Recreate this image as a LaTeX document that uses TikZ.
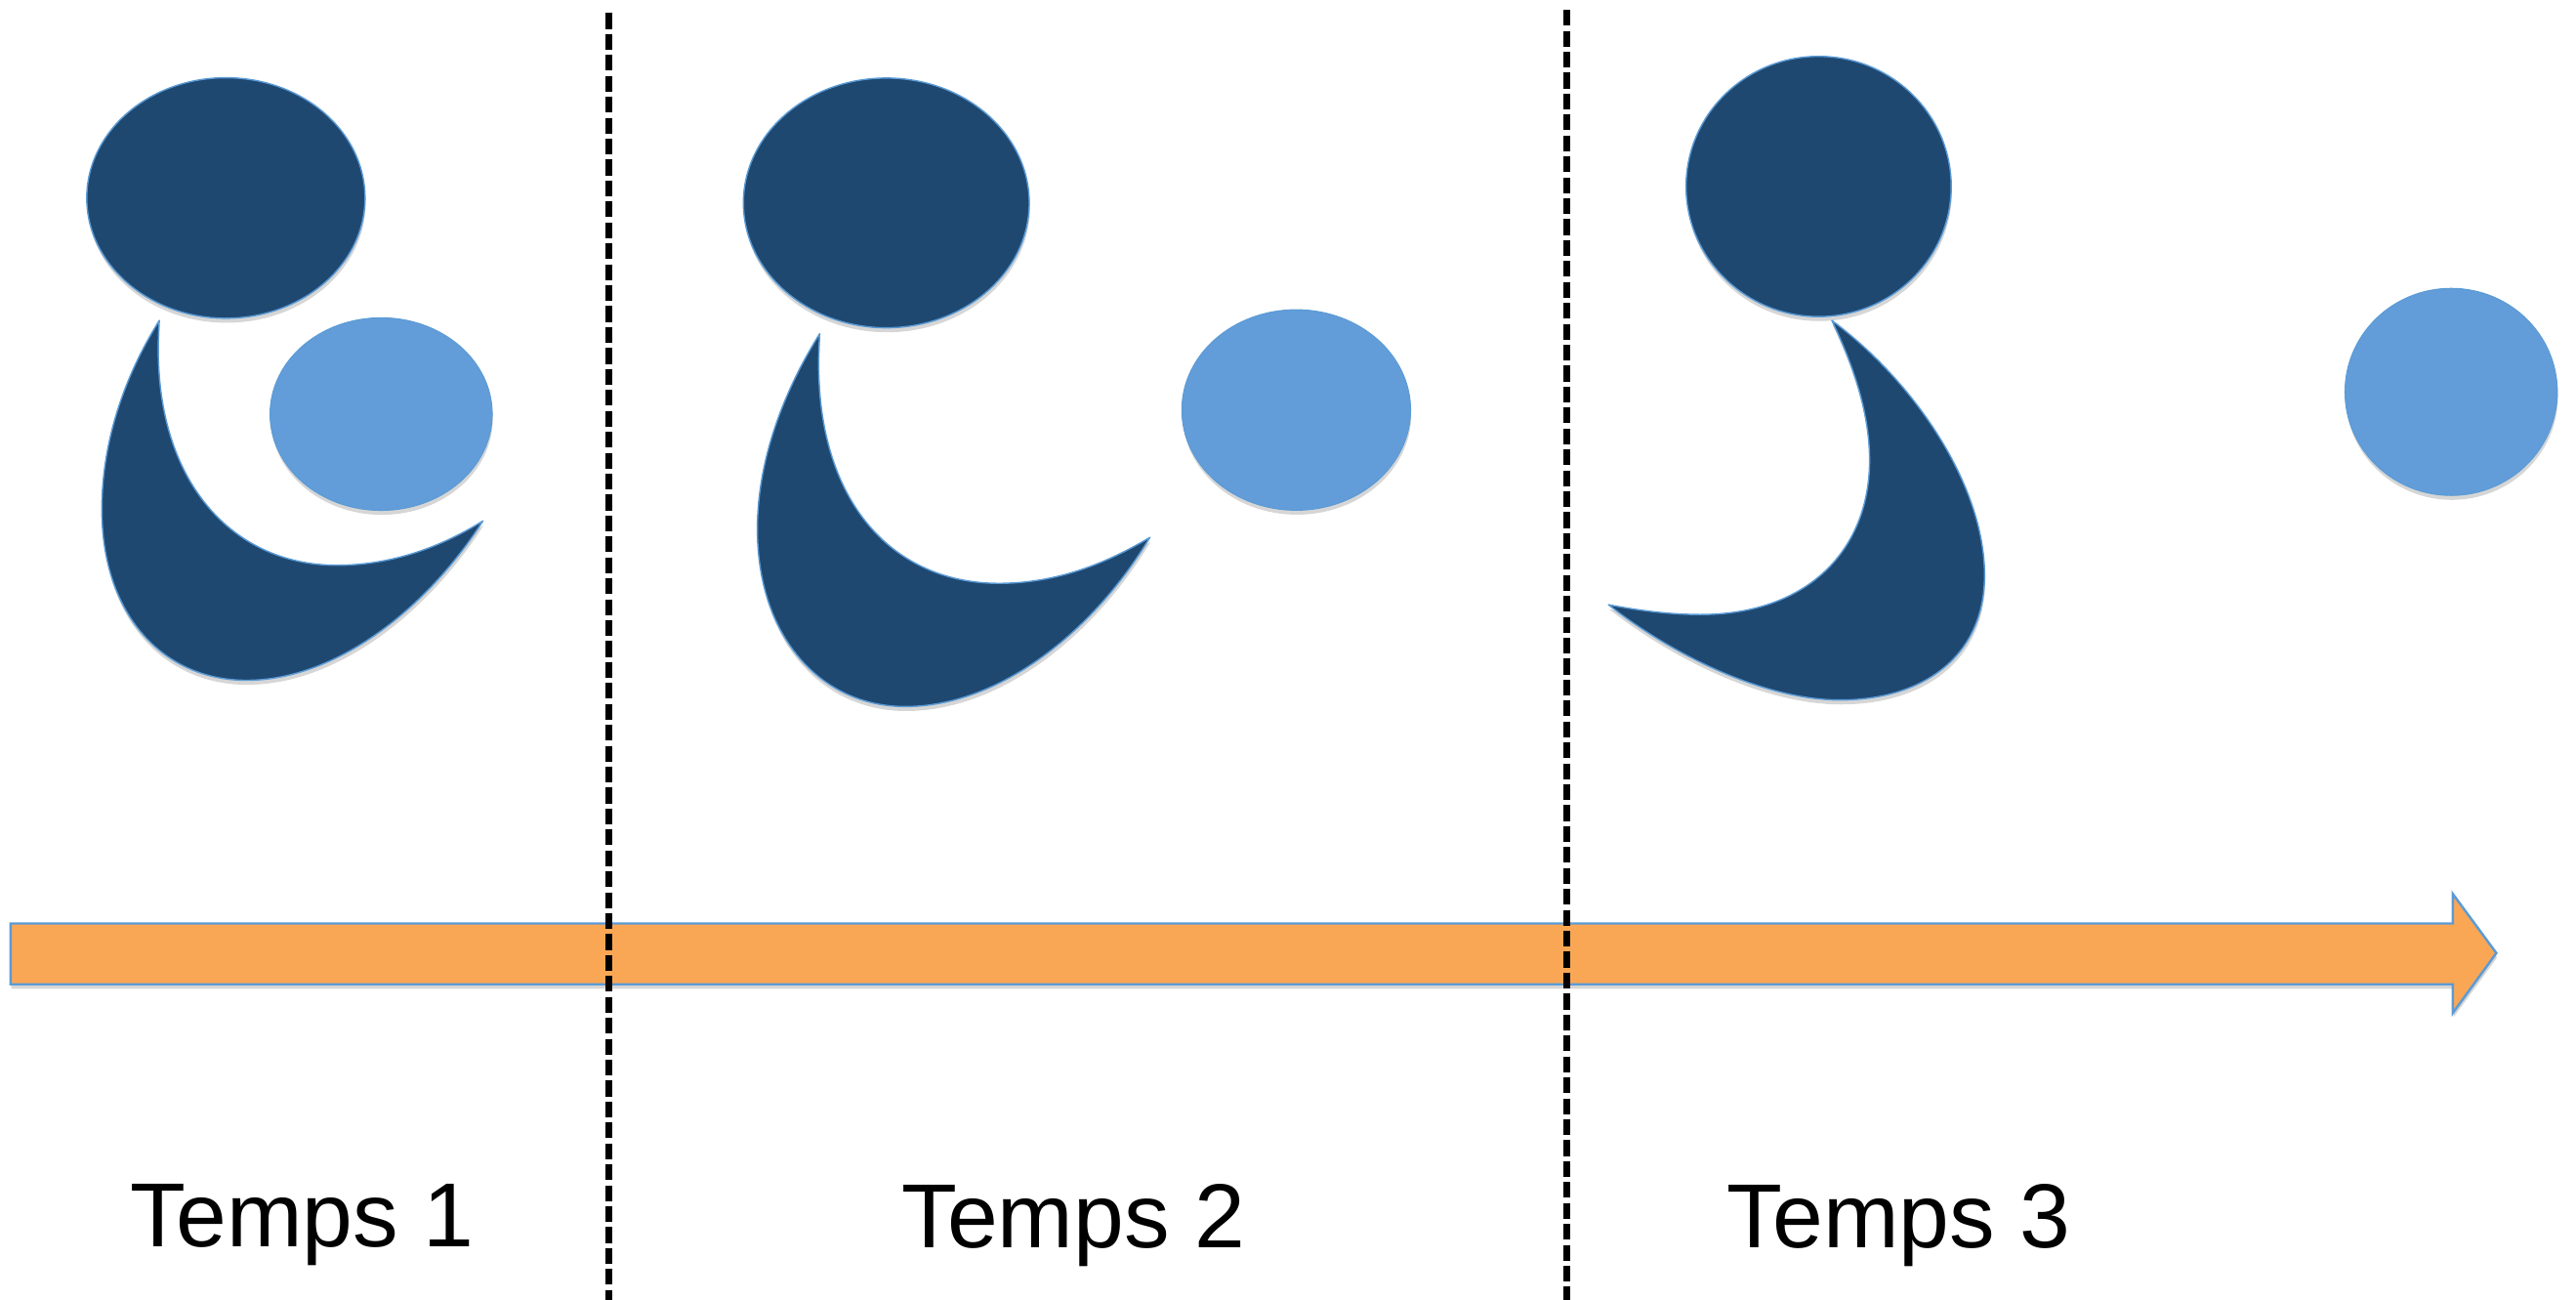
\documentclass[tikz,border=0pt]{standalone}
\usepackage{fontspec}
\setmainfont{Liberation Sans}
\usetikzlibrary{shadows}
\definecolor{darkblue}{HTML}{1F4871}
\definecolor{lightblue}{HTML}{629DDA}
\definecolor{edgeblue}{HTML}{5B9BD5}
\definecolor{timeorange}{HTML}{FAA755}

\begin{document}
\begin{tikzpicture}[x=0.016824cm,y=-0.016824cm]
        \tikzset{softshadow/.style = {drop shadow={shadow xshift=0.2pt,shadow yshift=-1.3pt,fill=black,opacity=.16}}};
        \tikzset{dark/.style = {fill=darkblue,draw=edgeblue,line width=.4pt,line join=round,softshadow}};
        \tikzset{light/.style = {fill=lightblue,draw=edgeblue,line width=.3pt,softshadow}};
        \tikzset{limit/.style = {black,line width=1.9pt,dash pattern=on 4.6pt off 1.5pt}};
        \tikzset{label/.style = {font=\fontsize{26.5}{30}\selectfont,inner sep=0pt}};
        \useasboundingbox (0,0) rectangle (1568,790.55);
        % time 1
        \draw[dark] (137.5,120.5) ellipse (84.7 and 73.2);
        \draw[light] (232,252) ellipse (67.6 and 58.6);
        \draw[dark] (97,195) .. controls (75,230) and (62,270) .. (62,310) .. controls (62,375) and (100,414) .. (150,414) .. controls (205,414) and (260,370) .. (294,317) .. controls (265,335) and (235,344) .. (205,344) .. controls (140,344) and (90,290) .. (97,195) -- cycle;
        % time 2
        \draw[dark] (539.5,123.5) ellipse (87 and 76);
        \draw[light] (789,249.5) ellipse (69.6 and 61);
        \draw[dark] (499,203) .. controls (477,238) and (461,280) .. (461,322) .. controls (461,388) and (500,430) .. (551,430) .. controls (608,430) and (665,385) .. (700,327) .. controls (670,345) and (640,355) .. (608,355) .. controls (540,355) and (492,300) .. (499,203) -- cycle;
        % time 3
        \draw[dark] (1107,113.5) ellipse (80.7 and 79.2);
        \draw[light] (1492,238.5) ellipse (64.6 and 63);
        \draw[dark] (1115,195) .. controls (1165,232) and (1208,295) .. (1208,350) .. controls (1208,400) and (1170,426) .. (1120,426) .. controls (1075,426) and (1020,400) .. (979,368) .. controls (1000,372) and (1018,374) .. (1035,374) .. controls (1100,374) and (1138,335) .. (1138,280) .. controls (1138,250) and (1127,220) .. (1115,195) -- cycle;
        % arrow
        \draw[fill=timeorange,draw=edgeblue,line width=.7pt,softshadow] (6.5,562) -- (1493,562) -- (1493,544) -- (1519.5,580) -- (1493,616.5) -- (1493,599) -- (6.5,599) -- cycle;
        % limits
        \coordinate (top1) at (370.5,8);
        \coordinate (bot1) at (370.5,791);
        \coordinate (top2) at (953.5,6);
        \coordinate (bot2) at (953.5,791);
        \draw[limit] (top1) -- (bot1);
        \draw[limit] (top2) -- (bot2);
        \node[label] (temps1) at (184,745.5) {Temps 1};
        \node[label] (temps2) at (653.5,745.5) {Temps 2};
        \node[label] (temps3) at (1156,745.5) {Temps 3};
    \end{tikzpicture}
\end{document}
